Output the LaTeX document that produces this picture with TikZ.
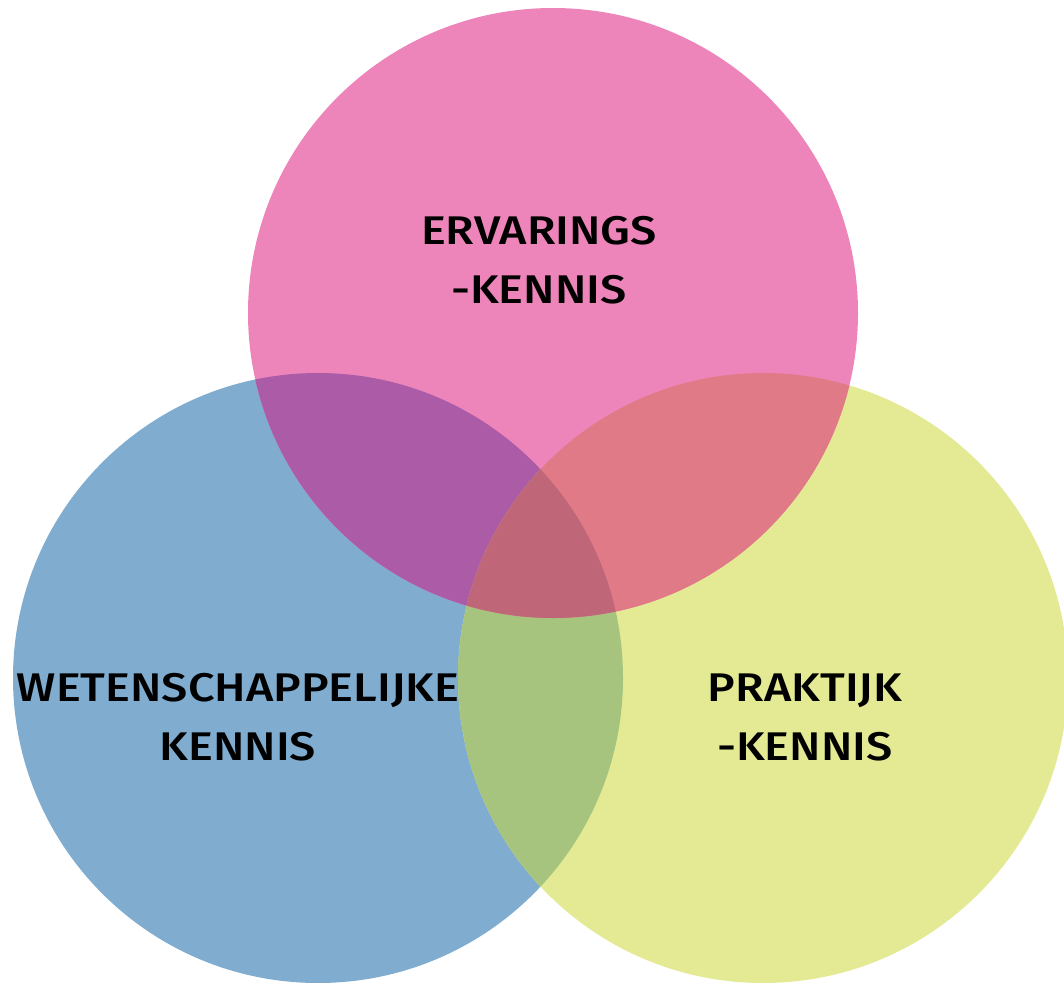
\documentclass[tikz,border=0pt]{standalone}
\usepackage{fontspec}
\setmainfont{Fira Sans}[BoldFont={Fira Sans Medium}, BoldFeatures={FakeStretch=1.17}]
\usepackage{xcolor}
\usepackage{tikz}

\definecolor{roze}{HTML}{ED85BB}
\definecolor{blauw}{HTML}{7FACCF}
\definecolor{geel}{HTML}{E3EA93}
\definecolor{paars}{HTML}{AC5BA6}
\definecolor{rood}{HTML}{E07A86}
\definecolor{groen}{HTML}{A7C47E}
\definecolor{midden}{HTML}{BF6679}

\tikzset{
  kennis/.style={align=center, anchor=base, text=black,
    font=\fontsize{40}{59}\selectfont\bfseries}
}

\begin{document}
\begin{tikzpicture}[x=1pt, y=-1pt]
    \useasboundingbox (0,0) rectangle (1064,982);

    % Middelpunten van de cirkels
    \coordinate (E) at (553,313);
    \coordinate (W) at (318,678);
    \coordinate (P) at (763,678);
    \def\straal{305}

    % Cirkels
    \fill[blauw] (W) circle (\straal);
    \fill[geel] (P) circle (\straal);
    \fill[roze] (E) circle (\straal);

    % Overlappingen
    \begin{scope}
        \clip (W) circle (\straal);
        \fill[paars] (E) circle (\straal);
        \fill[groen] (P) circle (\straal);
    \end{scope}
    \begin{scope}
        \clip (E) circle (\straal);
        \fill[rood] (P) circle (\straal);
        \clip (W) circle (\straal);
        \fill[midden] (P) circle (\straal);
    \end{scope}

    % Teksten (anker op de onderste regel)
    \node[kennis] (ervaring) at (539,303) {ERVARINGS\\-KENNIS};
    \node[kennis] (wetenschap) at (238,760) {WETENSCHAPPELIJKE\\KENNIS};
    \node[kennis] (praktijk) at (805,760) {PRAKTIJK\\-KENNIS};
\end{tikzpicture}
\end{document}
